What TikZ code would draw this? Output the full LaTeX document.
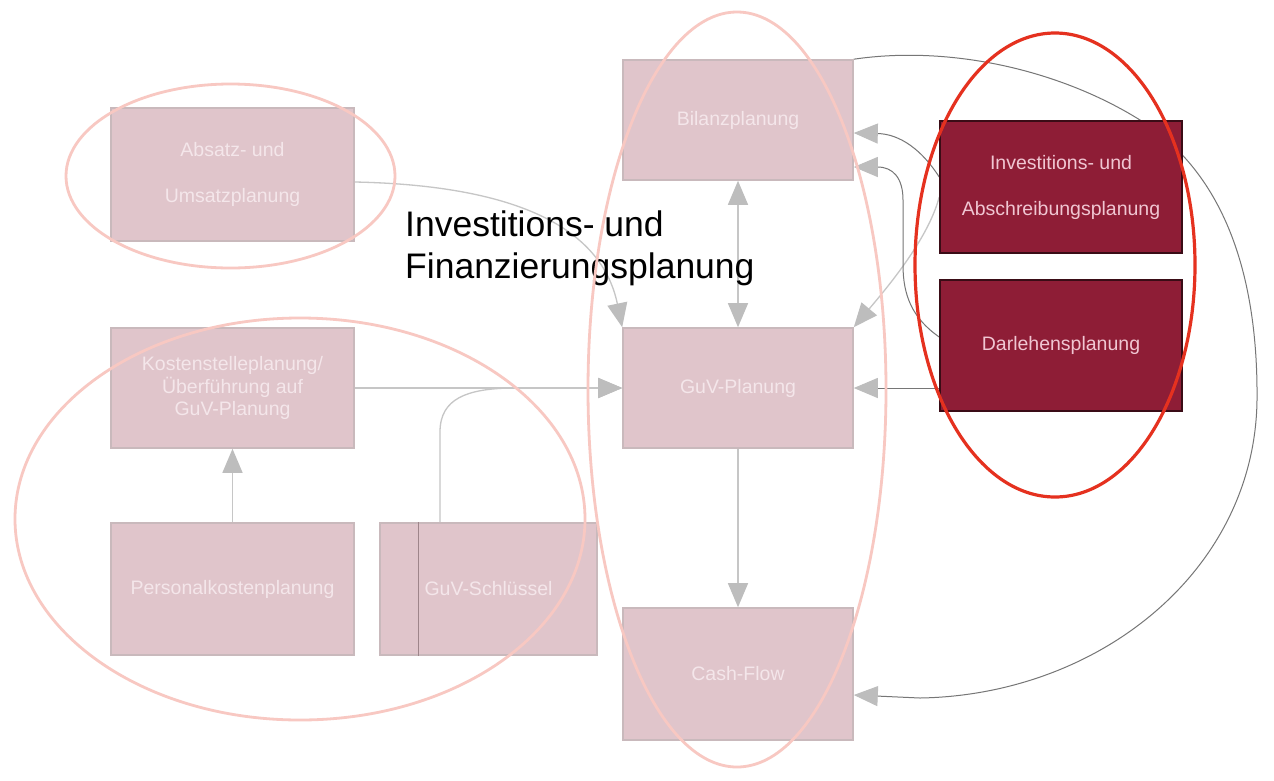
\documentclass[tikz,border=0pt]{standalone}
\usepackage{fontspec}
\setmainfont{Liberation Sans}
\usetikzlibrary{arrows.meta,calc}
\pgfdeclarelayer{back}
\pgfdeclarelayer{lines}
\pgfsetlayers{back,lines,main}
\definecolor{boxfill}{HTML}{E0C5CB}
\definecolor{boxline}{HTML}{C9B9BC}
\definecolor{boxtext}{HTML}{F4E6EA}
\definecolor{darkfill}{HTML}{8E1D36}
\definecolor{darkline}{HTML}{3A0C16}
\definecolor{darktext}{HTML}{F0C6D2}
\definecolor{paleell}{HTML}{F8C8C2}
\definecolor{redell}{HTML}{E5311F}
\definecolor{lgray}{HTML}{C6C6C6}
\definecolor{agray}{HTML}{BDBDBD}
\definecolor{dgray}{HTML}{767676}
\begin{document}
\begin{tikzpicture}[x=1pt,y=-1pt,
  >={Triangle[width=20pt,length=24pt,color=agray]},
  box/.style={draw=boxline, line width=1.6pt, fill=boxfill, text=boxtext,
    font=\fontsize{19.5}{23}\selectfont, align=center, inner sep=0pt},
  dbox/.style={box, draw=darkline, fill=darkfill, text=darktext},
  conn/.style={draw=lgray, line width=1.3pt, ->},
  dconn/.style={draw=dgray, line width=1pt, ->},
  paleellipse/.style={draw=paleell, line width=2.8pt},
  redellipse/.style={draw=redell, line width=3.2pt},
  title/.style={font=\fontsize{35.5}{42}\selectfont, align=left, inner sep=0pt, text=black}
]
\begin{pgfonlayer}{back}
  \fill[white] (0,0) rectangle (1274,780);
\end{pgfonlayer}
\useasboundingbox (0,0) rectangle (1274,780);

% boxes
\node[box, minimum width=243pt, minimum height=133pt, font=\fontsize{19.5}{46}\selectfont] (absatz) at (232.5,174.5) {Absatz- und\\Umsatzplanung};
\node[box, minimum width=230pt, minimum height=120pt] (bilanz) at (738,120) {Bilanzplanung};
\node[dbox, minimum width=242pt, minimum height=132pt, font=\fontsize{19.5}{46}\selectfont] (invest) at (1061,187) {Investitions- und\\Abschreibungsplanung};
\node[dbox, minimum width=242pt, minimum height=131pt] (darlehen) at (1061,345.5) {Darlehensplanung};
\node[box, minimum width=243pt, minimum height=120pt, font=\fontsize{19.5}{22.5}\selectfont] (kosten) at (232.5,388) {Kostenstelleplanung/\\Überführung auf\\GuV-Planung};
\node[box, minimum width=230pt, minimum height=120pt] (guv) at (738,388) {GuV-Planung};
\node[box, minimum width=243pt, minimum height=132pt] (personal) at (232.5,589) {Personalkostenplanung};
\node[box, minimum width=217pt, minimum height=132pt] (schl) at (488.5,589) {GuV-Schlüssel};
\draw[draw=boxline!70!darkline, line width=0.6pt] ($(schl.north west)+(39,0)$) -- ($(schl.south west)+(39,0)$);
\node[box, minimum width=230pt, minimum height=132pt] (cash) at (738,674) {Cash-Flow};

\node[title, anchor=north west] (title) at (405,211) {Investitions- und\\Finanzierungsplanung};

% connectors
\begin{pgfonlayer}{lines}
\draw[conn] ($(absatz.east)+(0,7.5)$) .. controls (500,185) and (600,220) .. (guv.north west);
\draw[conn] (kosten.east) -- (guv.west);
\draw[conn] ($(schl.north)+(-48.5,0)$) -- (440,432) .. controls (440,398) and (468,389) .. (510,388) -- (guv.west);
\draw[conn] (personal.north) -- (kosten.south);
\draw[conn, <->] (bilanz.south) -- (guv.north);
\draw[conn] (guv.south) -- (cash.north);
\draw[dconn] ($(invest.west)+(0,-10)$) .. controls (922,150) and (900,134) .. ($(bilanz.east)+(0,13)$);
\draw[conn] ($(invest.west)+(0,10)$) .. controls (928,240) and (885,290) .. (guv.north east);
\draw[dconn] ($(darlehen.west)+(0,-8.5)$) .. controls (912,318) and (903,295) .. (903,265) -- (903,200) .. controls (903,178) and (893,167) .. ($(bilanz.east)+(0,47)$);
\draw[dconn] ($(darlehen.west)+(0,42.5)$) -- (guv.east);
\draw[dconn] (bilanz.north east) .. controls (950,45) and (1060,70) .. (1140,120) .. controls (1232,178) and (1258,290) .. (1257,400) .. controls (1255,570) and (1100,695) .. (920,698) -- ($(cash.east)+(0,21)$);
\end{pgfonlayer}

% ellipses
\draw[paleellipse] (230.5,176) ellipse [x radius=164.5pt, y radius=92pt];
\draw[paleellipse] (300,519) ellipse [x radius=285pt, y radius=201pt];
\draw[paleellipse] (737,389.5) ellipse [x radius=149pt, y radius=377.5pt];
\draw[redellipse] (1055,265) ellipse [x radius=140pt, y radius=232pt];
\end{tikzpicture}
\end{document}
